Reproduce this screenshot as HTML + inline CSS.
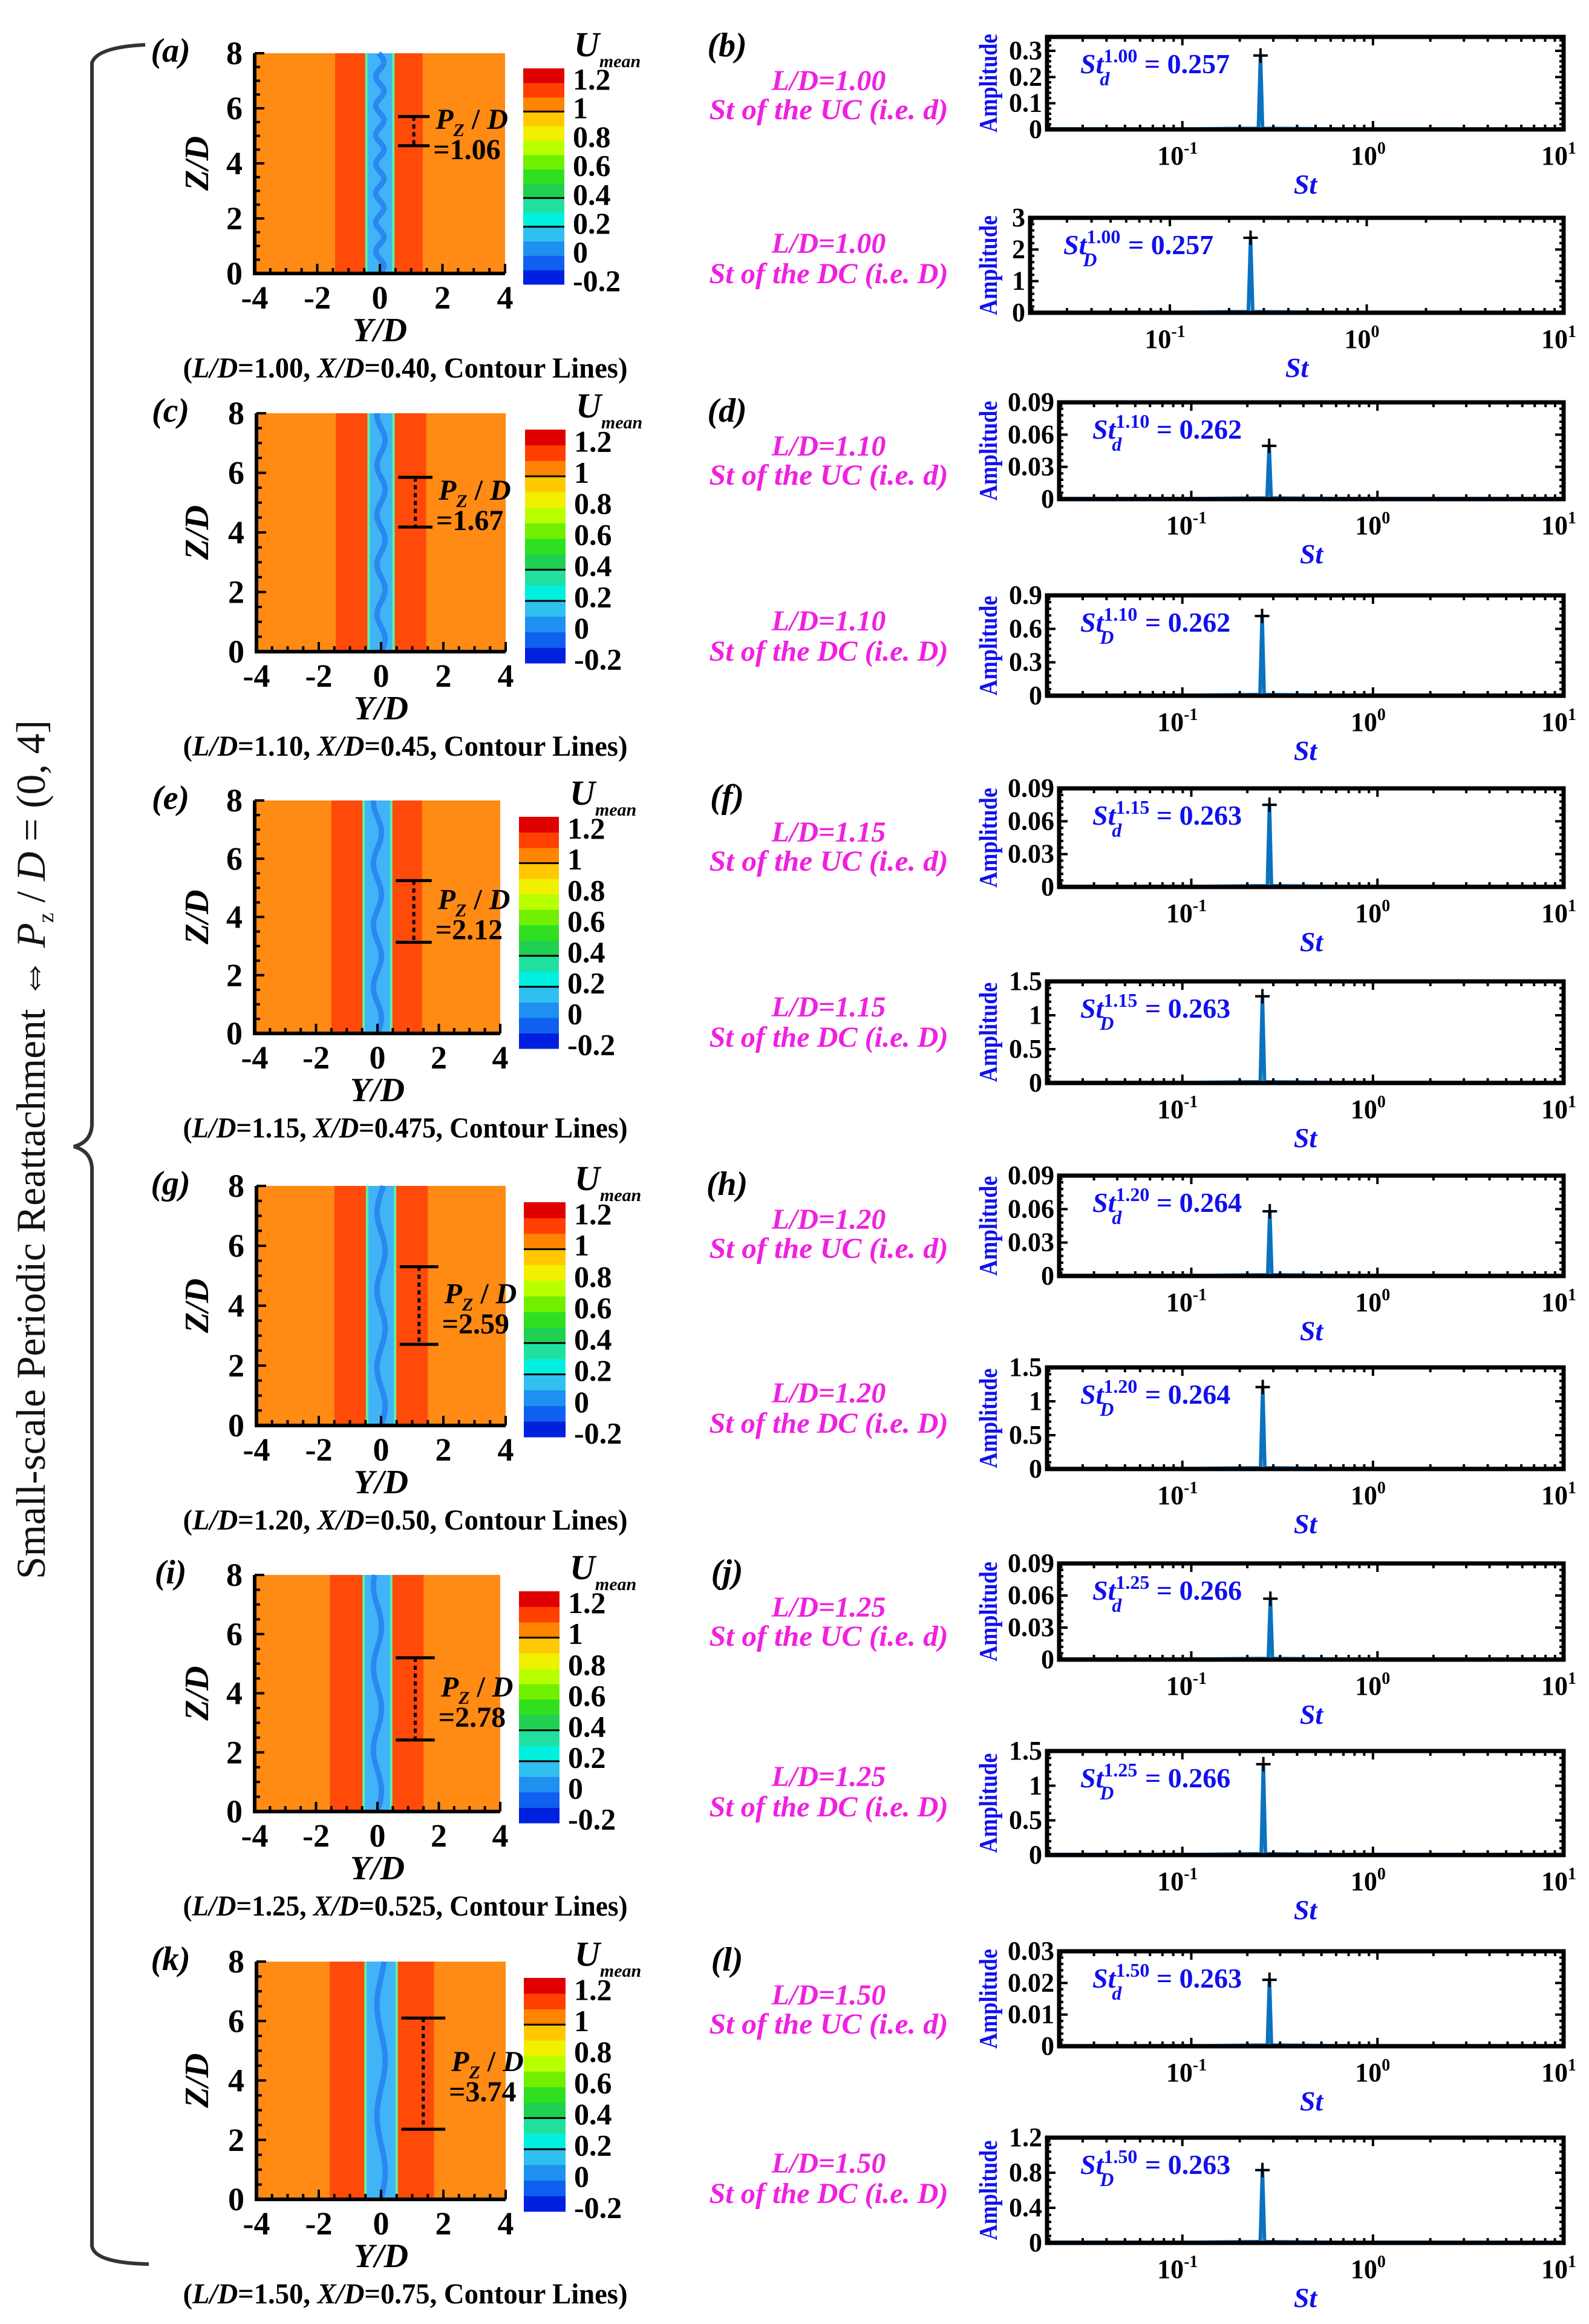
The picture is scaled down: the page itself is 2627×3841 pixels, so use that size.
<!DOCTYPE html>
<html><head><meta charset="utf-8">
<style>
html,body{margin:0;padding:0;background:#fff;}
svg{display:block;font-family:"Liberation Serif",serif;}
</style></head>
<body>
<svg id="fig" xmlns="http://www.w3.org/2000/svg" width="2627" height="3841" viewBox="0 0 2627 3841">
<rect x="0" y="0" width="2627" height="3841" fill="#fff"/>
<path d="M240 74 Q160 78 152 104 L152 1860 Q150 1888 122 1895 Q150 1902 152 1930 L152 3712 Q156 3740 246 3742" fill="none" stroke="#333" stroke-width="6"/>
<text transform="translate(74,1900) rotate(-90)" text-anchor="middle" font-size="68" fill="#111" textLength="1420" lengthAdjust="spacingAndGlyphs">Small-scale Periodic  Reattachment  ⇔  <tspan font-style="italic">P</tspan><tspan font-size="38" dy="14">z</tspan><tspan dy="-14"> / </tspan><tspan font-style="italic">D</tspan> = (0, 4]</text>
</svg>
<script>
// ---------- data ----------
const caseLD = ['1.00','1.10','1.15','1.20','1.25','1.50'];
const caseXD = ['0.40','0.45','0.475','0.50','0.525','0.75'];
const pzValues = [1.06, 1.67, 2.12, 2.59, 2.78, 3.74];
const pzTop = [5.7, 5.85, 5.25, 5.3, 5.2, 6.1];
const stUC = [0.257, 0.262, 0.263, 0.264, 0.266, 0.263];
const stDC = [0.257, 0.262, 0.263, 0.264, 0.266, 0.263];
const ampUC = [0.282, 0.0496, 0.075, 0.058, 0.057, 0.021];
const ampDC = [2.37, 0.715, 1.28, 1.21, 1.31, 0.83];
const ucTicks = [[0,0.1,0.2,0.3],[0,0.03,0.06,0.09],[0,0.03,0.06,0.09],[0,0.03,0.06,0.09],[0,0.03,0.06,0.09],[0,0.01,0.02,0.03]];
const ucTickLabels = [['0','0.1','0.2','0.3'],['0','0.03','0.06','0.09'],['0','0.03','0.06','0.09'],['0','0.03','0.06','0.09'],['0','0.03','0.06','0.09'],['0','0.01','0.02','0.03']];
const ucMax = [0.353, 0.09, 0.09, 0.09, 0.09, 0.03];
const dcTicks = [[0,1,2,3],[0,0.3,0.6,0.9],[0,0.5,1,1.5],[0,0.5,1,1.5],[0,0.5,1,1.5],[0,0.4,0.8,1.2]];
const dcTickLabels = [['0','1','2','3'],['0','0.3','0.6','0.9'],['0','0.5','1','1.5'],['0','0.5','1','1.5'],['0','0.5','1','1.5'],['0','0.4','0.8','1.2']];
const dcMax = [3, 0.9, 1.5, 1.5, 1.5, 1.2];
const cbTicks = [-0.2, 0, 0.2, 0.4, 0.6, 0.8, 1.0, 1.2];
const cbTickLabels = ['-0.2','0','0.2','0.4','0.6','0.8','1','1.2'];
const yTicksC = [-4, -2, 0, 2, 4];
const zTicksC = [0, 2, 4, 6, 8];
const redLeft = [-1.43, -1.45, -1.5, -1.5, -1.55, -1.65];
const coreHalf = [0.43, 0.4, 0.45, 0.45, 0.45, 0.5];
const redRight = [1.37, 1.45, 1.45, 1.5, 1.5, 1.7];
const panelLeft = ['(a)','(c)','(e)','(g)','(i)','(k)'];
const panelRight = ['(b)','(d)','(f)','(h)','(j)','(l)'];
const bandColors = ['#0020e0','#1060f0','#1e90f0','#30c0f0','#00f0e0','#20e0a0','#20d050','#30e020','#70f000','#b8ff00','#f0f000','#ffc800','#ff8400','#ff4000','#e00000'];

// ---------- layout ----------
const cBox = [[421,835,88,452],[424,836,683,1077],[421,827,1323,1708],[424,836,1960,2356],[421,827,2603,2994],[424,836,3242,3635]];
const cBar = [[865,933,113,470],[868,935,710,1096],[858,924,1350,1733],[866,935,1987,2375],[858,925,2630,3013],[866,935,3269,3655]];
const ucBox = [[1731,61,214],[1751,665,825],[1751,1303,1466],[1751,1943,2109],[1751,2584,2743],[1751,3225,3382]];
const dcBox = [[1703,360,517],[1731,984,1150],[1731,1622,1790],[1731,2260,2428],[1731,2894,3066],[1731,3533,3707]];
const SPEC_R = 2585;

const svg = document.getElementById('fig');
const NS = 'http://www.w3.org/2000/svg';
function mk(tag, attrs, parent, txt){
  const e = document.createElementNS(NS, tag);
  for (const k in attrs) e.setAttribute(k, attrs[k]);
  if (txt !== undefined) e.textContent = txt;
  (parent || svg).appendChild(e);
  return e;
}
const BOLD = 'bold';

for (let i = 0; i < 6; i++) {
  const [x0,x1,y0,y1] = cBox[i];
  const g = mk('g', {});
  
  
  const sx = v => x0 + (v + 4) / 8 * (x1 - x0);
  const sz = v => y1 - v / 8 * (y1 - y0);
  const bg = mk('rect', {x:x0, y:y0, width:x1-x0, height:y1-y0, fill:'#ff8a14'}, g);
  
  
  const rl = mk('rect', {x:sx(redLeft[i]), y:y0, width:sx(-coreHalf[i])-sx(redLeft[i]), height:y1-y0, fill:'#ff4a0a'}, g);
  
  
  const rr = mk('rect', {x:sx(coreHalf[i]), y:y0, width:sx(redRight[i])-sx(coreHalf[i]), height:y1-y0, fill:'#ff4a0a'}, g);
  
  
  const core = mk('rect', {x:sx(-coreHalf[i]), y:y0, width:sx(coreHalf[i])-sx(-coreHalf[i]), height:y1-y0, fill:'#40b4f6'}, g);
  
  
  const edges = mk('path', {d:`M${sx(-coreHalf[i])} ${y0} L${sx(-coreHalf[i])} ${y1} M${sx(coreHalf[i])} ${y0} L${sx(coreHalf[i])} ${y1}`, stroke:'#60f0a0', 'stroke-width':4}, g);
  
  
  let d = '';
  for (let z = 0; z <= 8.001; z += 0.05) {
    const xv = 0.13 * Math.sin(2 * Math.PI * z / pzValues[i]);
    d += (z === 0 ? 'M' : 'L') + sx(xv).toFixed(1) + ' ' + sz(z).toFixed(1) + ' ';
  }
  const wave = mk('path', {d:d, fill:'none', stroke:'#2a88f0', 'stroke-width':(x1-x0)*0.022}, g);
  
  
  const ax = mk('path', {d:`M${x0} ${y0} L${x0} ${y1} L${x1} ${y1}`, fill:'none', stroke:'#000', 'stroke-width':6}, g);
  
  
  let td = '';
  for (let v = -4; v <= 4.001; v += 0.5) { const L = Math.abs(v % 2) < 0.01 ? 16 : 9; td += `M${sx(v)} ${y1} L${sx(v)} ${y1-L} `; }
  for (let v = 0; v <= 8.001; v += 0.5) { const L = Math.abs(v % 2) < 0.01 ? 16 : 9; td += `M${x0} ${sz(v)} L${x0+L} ${sz(v)} `; }
  const tk = mk('path', {d:td, stroke:'#000', 'stroke-width':4}, g);
  
  
  yTicksC.forEach(v => {
    const t = mk('text', {x:sx(v), y:y1+58, 'text-anchor':'middle', 'font-size':54, 'font-weight':BOLD}, g, String(v));
    
    
  });
  zTicksC.forEach(v => {
    const t = mk('text', {x:x0-20, y:sz(v)+18, 'text-anchor':'end', 'font-size':54, 'font-weight':BOLD}, g, String(v));
    
    
  });
  const xt = mk('text', {x:(x0+x1)/2, y:y1+112, 'text-anchor':'middle', 'font-size':56, 'font-weight':BOLD, 'font-style':'italic'}, g, 'Y/D');
  
  
  const yt = mk('text', {transform:`translate(344,${(y0+y1)/2}) rotate(-90)`, 'text-anchor':'middle', 'font-size':56, 'font-weight':BOLD, 'font-style':'italic'}, g, 'Z/D');
  
  
  const pl = mk('text', {x:282, y:y0+14, 'text-anchor':'middle', 'font-size':56, 'font-weight':BOLD, 'font-style':'italic'}, g, panelLeft[i]);
  
  
  const cap = mk('text', {x:670, y:y1+172, 'text-anchor':'middle', 'font-size':48, 'font-weight':BOLD, textLength:735, lengthAdjust:'spacingAndGlyphs'}, g);
  
  
  cap.innerHTML = `(<tspan font-style="italic">L/D</tspan>=${caseLD[i]}, <tspan font-style="italic">X/D</tspan>=${caseXD[i]}, Contour Lines)`;
  const zt = pzTop[i], zb = pzTop[i] - pzValues[i];
  const mx0 = sx(coreHalf[i] + 0.15), mx1 = sx(coreHalf[i] + 0.15 + 0.85 + pzValues[i] * 0.15);
  const mxm = (mx0 + mx1) / 2;
  const pm = mk('path', {d:`M${mx0} ${sz(zt)} L${mx1} ${sz(zt)} M${mx0} ${sz(zb)} L${mx1} ${sz(zb)}`, stroke:'#000', 'stroke-width':5}, g);
  
  
  const pd = mk('line', {x1:mxm, y1:sz(zt), x2:mxm, y2:sz(zb), stroke:'#000', 'stroke-width':5, 'stroke-dasharray':'7 6'}, g);
  
  
  const ym = (sz(zt) + sz(zb)) / 2;
  const p1 = mk('text', {x:mx1+10, y:ym-4, 'font-size':48, 'font-weight':BOLD}, g);
  
  
  p1.innerHTML = '<tspan font-style="italic">P</tspan><tspan font-size="30" dy="12" font-style="italic">Z</tspan><tspan dy="-12"> / </tspan><tspan font-style="italic">D</tspan>';
  const p2 = mk('text', {x:mx1+6, y:ym+46, 'font-size':48, 'font-weight':BOLD}, g, '=' + pzValues[i].toFixed(2));
  
  
  const [bx0,bx1,by0,by1] = cBar[i];
  const vmin = -0.225, vmax = 1.275;
  const sv = v => by1 - (v - vmin) / (vmax - vmin) * (by1 - by0);
  bandColors.forEach((c, k) => {
    const lo = vmin + k * 0.1, hi = lo + 0.1;
    const b = mk('rect', {x:bx0, y:sv(hi), width:bx1-bx0, height:sv(lo)-sv(hi)+0.5, fill:c}, g);
    
    
  });
  [0.975, 0.375, 0.175].forEach(v => {
    const l = mk('line', {x1:bx0, x2:bx1, y1:sv(v), y2:sv(v), stroke:'#000', 'stroke-width':3}, g);
    
    
  });
  cbTicks.forEach((v, k) => {
    const t = mk('text', {x:bx1+14, y:sv(v)+17, 'font-size':50, 'font-weight':BOLD}, g, cbTickLabels[k]);
    
    
  });
  const um = mk('text', {x:bx0+84, y:by0-20, 'font-size':58, 'font-weight':BOLD, 'font-style':'italic'}, g);
  
  
  um.innerHTML = 'U<tspan font-size="30" dy="18">mean</tspan>';
}

function spectrum(idx, kind, box, ticks, tickLabels, ymax, st, amp) {
  const [L, T, B] = box, R = SPEC_R;
  const g = mk('g', {});
  
  
  const lmin = -1.71, lmax = 1;
  const sx = v => L + (Math.log10(v) - lmin) / (lmax - lmin) * (R - L);
  const sy = v => B - v / ymax * (B - T);
  const pts = [[Math.pow(10, lmin), 0.006*ymax],[0.12, 0.006*ymax],[st*0.975, 0.012*ymax],[st, amp],[st*1.025, 0.012*ymax],[0.6, 0.006*ymax],[10, 0.006*ymax]];
  const ln = mk('polyline', {points:pts.map(p => sx(p[0]).toFixed(1)+','+sy(p[1]).toFixed(1)).join(' '), fill:'none', stroke:'#0a72c0', 'stroke-width':6}, g);
  
  
  const pk = mk('path', {d:`M${sx(st)-12} ${sy(amp)} L${sx(st)+12} ${sy(amp)} M${sx(st)} ${sy(amp)-12} L${sx(st)} ${sy(amp)+12}`, stroke:'#000', 'stroke-width':4}, g);
  
  
  let td = '';
  for (let e = -2; e <= 1; e++) for (let m = 1; m <= 9; m++) {
    const v = m * Math.pow(10, e);
    if (Math.log10(v) < lmin || Math.log10(v) > lmax + 1e-9) continue;
    const len = m === 1 ? 14 : 8, x = sx(v);
    td += `M${x} ${B} L${x} ${B-len} M${x} ${T} L${x} ${T+len} `;
  }
  const step = (ticks[1] - ticks[0]) / 5;
  for (let v = 0; v <= ymax + 1e-9; v += step) {
    const major = ticks.some(t => Math.abs(t - v) < step / 10);
    const len = major ? 14 : 7, y = sy(v);
    td += `M${L} ${y} L${L+len} ${y} M${R} ${y} L${R-len} ${y} `;
  }
  const tk = mk('path', {d:td, stroke:'#000', 'stroke-width':4}, g);
  
  
  const fr = mk('rect', {x:L, y:T, width:R-L, height:B-T, fill:'none', stroke:'#000', 'stroke-width':7}, g);
  
  
  ticks.forEach((v, k) => {
    const t = mk('text', {x:L-8, y:sy(v)+14, 'text-anchor':'end', 'font-size':44, 'font-weight':BOLD}, g, tickLabels[k]);
    
    
  });
  [[-1,'-1'],[0,'0'],[1,'1']].forEach(([e, s]) => {
    const t = mk('text', {x:sx(Math.pow(10, e))-8, y:B+58, 'text-anchor':'middle', 'font-size':44, 'font-weight':BOLD}, g);
    
    
    t.innerHTML = `10<tspan font-size="28" dy="-18">${s}</tspan>`;
  });
  const xt = mk('text', {x:(L+R)/2, y:B+106, 'text-anchor':'middle', 'font-size':46, 'font-weight':BOLD, 'font-style':'italic', fill:'#1010ee'}, g, 'St');
  
  
  const yt = mk('text', {transform:`translate(1648,${(T+B)/2}) rotate(-90)`, 'text-anchor':'middle', 'font-size':42, 'font-weight':BOLD, fill:'#1010ee', textLength:Math.min(165,(B-T)+10), lengthAdjust:'spacingAndGlyphs'}, g, 'Amplitude');
  
  
  const an = mk('text', {x:L+55, y:T+60, 'font-size':46, 'font-weight':BOLD, fill:'#1010ee'}, g);
  
  
  const sub = kind === 'uc' ? 'd' : 'D';
  an.innerHTML = `<tspan font-style="italic">St</tspan><tspan font-size="32" dy="-18">${caseLD[idx]}</tspan><tspan font-size="32" font-style="italic" dx="-62" dy="38">${sub}</tspan><tspan dx="${sub==='d'?46:40}" dy="-20"> = ${st.toFixed(3)}</tspan>`;
  const lbl1 = mk('text', {x:1370, y:T+(kind==='uc'?88:58), 'text-anchor':'middle', 'font-size':48, 'font-weight':BOLD, 'font-style':'italic', fill:'#f020e0'}, g, 'L/D=' + caseLD[idx]);
  
  
  const lbl2 = mk('text', {x:1370, y:T+(kind==='uc'?136:108), 'text-anchor':'middle', 'font-size':48, 'font-weight':BOLD, 'font-style':'italic', fill:'#f020e0', textLength:395, lengthAdjust:'spacingAndGlyphs'}, g, kind === 'uc' ? 'St of the UC (i.e. d)' : 'St of the DC (i.e. D)');
  
  
}

for (let i = 0; i < 6; i++) {
  spectrum(i, 'uc', ucBox[i], ucTicks[i], ucTickLabels[i], ucMax[i], stUC[i], ampUC[i]);
  spectrum(i, 'dc', dcBox[i], dcTicks[i], dcTickLabels[i], dcMax[i], stDC[i], ampDC[i]);
  const pr = mk('text', {x:1202, y:ucBox[i][1]+32, 'text-anchor':'middle', 'font-size':56, 'font-weight':BOLD, 'font-style':'italic'}, svg, panelRight[i]);
  
  
}
</script>
</body></html>
